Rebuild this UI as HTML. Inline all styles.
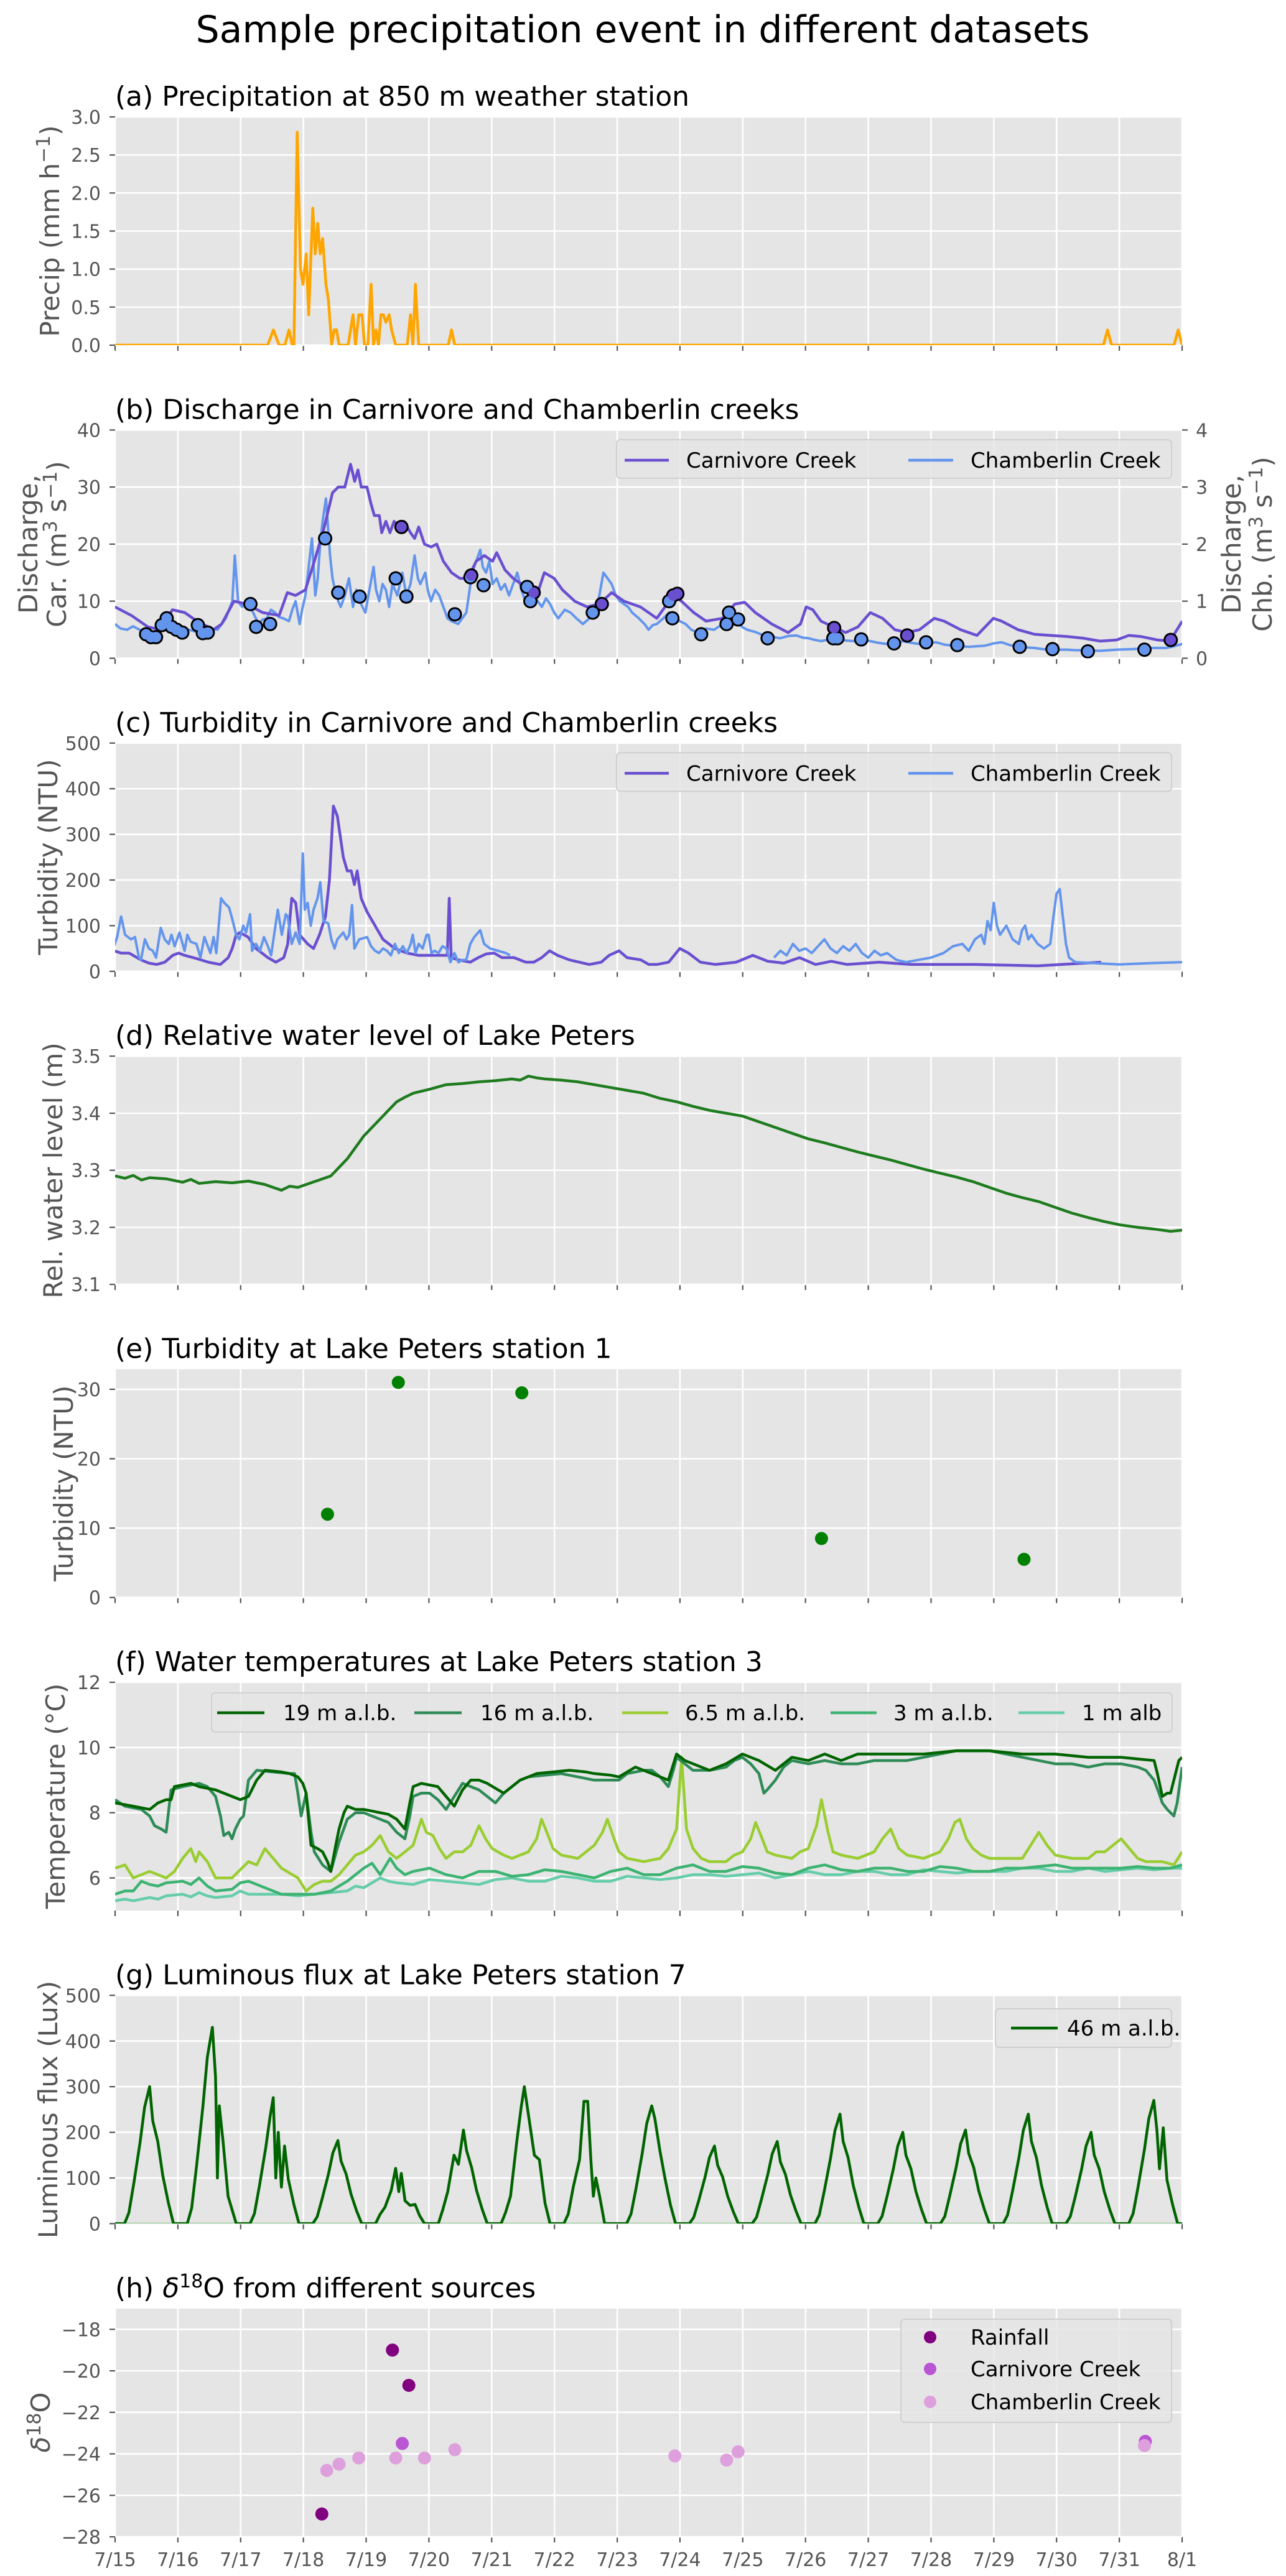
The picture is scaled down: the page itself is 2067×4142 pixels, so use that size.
<!DOCTYPE html>
<html><head><meta charset="utf-8"><style>
html,body{margin:0;padding:0;background:#fff;}
svg{display:block;font-family:"DejaVu Sans","Liberation Sans",sans-serif;}
.tk{font-size:30px;fill:#555;}
.yl{font-size:42px;fill:#555;}
.tt{font-size:44px;fill:#000;}
.lg{font-size:34px;fill:#000;}
.ln{fill:none;vector-effect:non-scaling-stroke;stroke-linejoin:round;stroke-width:4.5;}
.mk{fill:none;vector-effect:non-scaling-stroke;stroke-linecap:round;}
.hg line{stroke:#fff;stroke-width:2.6;}
.yt line{stroke:#555;stroke-width:2.2;}
</style></head><body>
<svg width="2067" height="4142" viewBox="0 0 2067 4142" xmlns="http://www.w3.org/2000/svg" xmlns:xlink="http://www.w3.org/1999/xlink">
<defs>
<g id="vg">
<rect x="185" y="0" width="1715" height="367" fill="#E5E5E5"/>
<g stroke="#fff" stroke-width="2.6">
<line x1="185" y1="0" x2="185" y2="367"/><line x1="285.9" y1="0" x2="285.9" y2="367"/><line x1="386.8" y1="0" x2="386.8" y2="367"/><line x1="487.6" y1="0" x2="487.6" y2="367"/><line x1="588.5" y1="0" x2="588.5" y2="367"/><line x1="689.4" y1="0" x2="689.4" y2="367"/><line x1="790.3" y1="0" x2="790.3" y2="367"/><line x1="891.2" y1="0" x2="891.2" y2="367"/><line x1="992.1" y1="0" x2="992.1" y2="367"/><line x1="1092.9" y1="0" x2="1092.9" y2="367"/><line x1="1193.8" y1="0" x2="1193.8" y2="367"/><line x1="1294.7" y1="0" x2="1294.7" y2="367"/><line x1="1395.6" y1="0" x2="1395.6" y2="367"/><line x1="1496.5" y1="0" x2="1496.5" y2="367"/><line x1="1597.4" y1="0" x2="1597.4" y2="367"/><line x1="1698.2" y1="0" x2="1698.2" y2="367"/><line x1="1799.1" y1="0" x2="1799.1" y2="367"/><line x1="1900" y1="0" x2="1900" y2="367"/>
</g>
<g stroke="#555" stroke-width="2.2">
<line x1="185" y1="367" x2="185" y2="376"/><line x1="285.9" y1="367" x2="285.9" y2="376"/><line x1="386.8" y1="367" x2="386.8" y2="376"/><line x1="487.6" y1="367" x2="487.6" y2="376"/><line x1="588.5" y1="367" x2="588.5" y2="376"/><line x1="689.4" y1="367" x2="689.4" y2="376"/><line x1="790.3" y1="367" x2="790.3" y2="376"/><line x1="891.2" y1="367" x2="891.2" y2="376"/><line x1="992.1" y1="367" x2="992.1" y2="376"/><line x1="1092.9" y1="367" x2="1092.9" y2="376"/><line x1="1193.8" y1="367" x2="1193.8" y2="376"/><line x1="1294.7" y1="367" x2="1294.7" y2="376"/><line x1="1395.6" y1="367" x2="1395.6" y2="376"/><line x1="1496.5" y1="367" x2="1496.5" y2="376"/><line x1="1597.4" y1="367" x2="1597.4" y2="376"/><line x1="1698.2" y1="367" x2="1698.2" y2="376"/><line x1="1799.1" y1="367" x2="1799.1" y2="376"/><line x1="1900" y1="367" x2="1900" y2="376"/>
</g>
</g>
<clipPath id="c0"><rect x="185" y="188" width="1715" height="367"/></clipPath>
<clipPath id="c1"><rect x="185" y="691.4" width="1715" height="367"/></clipPath>
<clipPath id="c2"><rect x="185" y="1194.8" width="1715" height="367"/></clipPath>
<clipPath id="c3"><rect x="185" y="1698.2" width="1715" height="367"/></clipPath>
<clipPath id="c5"><rect x="185" y="2705" width="1715" height="367"/></clipPath>
<clipPath id="c6"><rect x="185" y="3208.4" width="1715" height="367"/></clipPath>
</defs>

<use xlink:href="#vg" href="#vg" transform="translate(0,188)"/>
<use xlink:href="#vg" href="#vg" transform="translate(0,691.4)"/>
<use xlink:href="#vg" href="#vg" transform="translate(0,1194.8)"/>
<use xlink:href="#vg" href="#vg" transform="translate(0,1698.2)"/>
<use xlink:href="#vg" href="#vg" transform="translate(0,2201.6)"/>
<use xlink:href="#vg" href="#vg" transform="translate(0,2705)"/>
<use xlink:href="#vg" href="#vg" transform="translate(0,3208.4)"/>
<use xlink:href="#vg" href="#vg" transform="translate(0,3712)"/>

<g class="hg">
<line x1="185" x2="1900" y1="188" y2="188"/><line x1="185" x2="1900" y1="249.2" y2="249.2"/><line x1="185" x2="1900" y1="310.3" y2="310.3"/><line x1="185" x2="1900" y1="371.5" y2="371.5"/><line x1="185" x2="1900" y1="432.7" y2="432.7"/><line x1="185" x2="1900" y1="493.8" y2="493.8"/><line x1="185" x2="1900" y1="555" y2="555"/>
<line x1="185" x2="1900" y1="691.4" y2="691.4"/><line x1="185" x2="1900" y1="783.1" y2="783.1"/><line x1="185" x2="1900" y1="874.9" y2="874.9"/><line x1="185" x2="1900" y1="966.6" y2="966.6"/><line x1="185" x2="1900" y1="1058.4" y2="1058.4"/>
<line x1="185" x2="1900" y1="1194.8" y2="1194.8"/><line x1="185" x2="1900" y1="1268.2" y2="1268.2"/><line x1="185" x2="1900" y1="1341.6" y2="1341.6"/><line x1="185" x2="1900" y1="1415" y2="1415"/><line x1="185" x2="1900" y1="1488.4" y2="1488.4"/><line x1="185" x2="1900" y1="1561.8" y2="1561.8"/>
<line x1="185" x2="1900" y1="1698.2" y2="1698.2"/><line x1="185" x2="1900" y1="1790" y2="1790"/><line x1="185" x2="1900" y1="1881.7" y2="1881.7"/><line x1="185" x2="1900" y1="1973.5" y2="1973.5"/><line x1="185" x2="1900" y1="2065.2" y2="2065.2"/>
<line x1="185" x2="1900" y1="2233.9" y2="2233.9"/><line x1="185" x2="1900" y1="2345.5" y2="2345.5"/><line x1="185" x2="1900" y1="2457" y2="2457"/><line x1="185" x2="1900" y1="2568.6" y2="2568.6"/>
<line x1="185" x2="1900" y1="2705" y2="2705"/><line x1="185" x2="1900" y1="2809.9" y2="2809.9"/><line x1="185" x2="1900" y1="2914.7" y2="2914.7"/><line x1="185" x2="1900" y1="3019.6" y2="3019.6"/>
<line x1="185" x2="1900" y1="3208.4" y2="3208.4"/><line x1="185" x2="1900" y1="3281.8" y2="3281.8"/><line x1="185" x2="1900" y1="3355.2" y2="3355.2"/><line x1="185" x2="1900" y1="3428.6" y2="3428.6"/><line x1="185" x2="1900" y1="3502" y2="3502"/><line x1="185" x2="1900" y1="3575.4" y2="3575.4"/>
<line x1="185" x2="1900" y1="3745.4" y2="3745.4"/><line x1="185" x2="1900" y1="3812.1" y2="3812.1"/><line x1="185" x2="1900" y1="3878.8" y2="3878.8"/><line x1="185" x2="1900" y1="3945.6" y2="3945.6"/><line x1="185" x2="1900" y1="4012.3" y2="4012.3"/><line x1="185" x2="1900" y1="4079" y2="4079"/>
</g>
<g class="yt">
<line x1="176" x2="185" y1="188" y2="188"/><line x1="176" x2="185" y1="249.2" y2="249.2"/><line x1="176" x2="185" y1="310.3" y2="310.3"/><line x1="176" x2="185" y1="371.5" y2="371.5"/><line x1="176" x2="185" y1="432.7" y2="432.7"/><line x1="176" x2="185" y1="493.8" y2="493.8"/><line x1="176" x2="185" y1="555" y2="555"/>
<line x1="176" x2="185" y1="691.4" y2="691.4"/><line x1="176" x2="185" y1="783.1" y2="783.1"/><line x1="176" x2="185" y1="874.9" y2="874.9"/><line x1="176" x2="185" y1="966.6" y2="966.6"/><line x1="176" x2="185" y1="1058.4" y2="1058.4"/>
<line x1="1900" x2="1909" y1="691.4" y2="691.4"/><line x1="1900" x2="1909" y1="783.1" y2="783.1"/><line x1="1900" x2="1909" y1="874.9" y2="874.9"/><line x1="1900" x2="1909" y1="966.6" y2="966.6"/><line x1="1900" x2="1909" y1="1058.4" y2="1058.4"/>
<line x1="176" x2="185" y1="1194.8" y2="1194.8"/><line x1="176" x2="185" y1="1268.2" y2="1268.2"/><line x1="176" x2="185" y1="1341.6" y2="1341.6"/><line x1="176" x2="185" y1="1415" y2="1415"/><line x1="176" x2="185" y1="1488.4" y2="1488.4"/><line x1="176" x2="185" y1="1561.8" y2="1561.8"/>
<line x1="176" x2="185" y1="1698.2" y2="1698.2"/><line x1="176" x2="185" y1="1790" y2="1790"/><line x1="176" x2="185" y1="1881.7" y2="1881.7"/><line x1="176" x2="185" y1="1973.5" y2="1973.5"/><line x1="176" x2="185" y1="2065.2" y2="2065.2"/>
<line x1="176" x2="185" y1="2233.9" y2="2233.9"/><line x1="176" x2="185" y1="2345.5" y2="2345.5"/><line x1="176" x2="185" y1="2457" y2="2457"/><line x1="176" x2="185" y1="2568.6" y2="2568.6"/>
<line x1="176" x2="185" y1="2705" y2="2705"/><line x1="176" x2="185" y1="2809.9" y2="2809.9"/><line x1="176" x2="185" y1="2914.7" y2="2914.7"/><line x1="176" x2="185" y1="3019.6" y2="3019.6"/>
<line x1="176" x2="185" y1="3208.4" y2="3208.4"/><line x1="176" x2="185" y1="3281.8" y2="3281.8"/><line x1="176" x2="185" y1="3355.2" y2="3355.2"/><line x1="176" x2="185" y1="3428.6" y2="3428.6"/><line x1="176" x2="185" y1="3502" y2="3502"/><line x1="176" x2="185" y1="3575.4" y2="3575.4"/>
<line x1="176" x2="185" y1="3745.4" y2="3745.4"/><line x1="176" x2="185" y1="3812.1" y2="3812.1"/><line x1="176" x2="185" y1="3878.8" y2="3878.8"/><line x1="176" x2="185" y1="3945.6" y2="3945.6"/><line x1="176" x2="185" y1="4012.3" y2="4012.3"/><line x1="176" x2="185" y1="4079" y2="4079"/>
</g>

<!-- (a) precip -->
<g clip-path="url(#c0)"><g transform="translate(0,555) scale(1.3196,-122.33)">
<polyline class="ln" stroke="#FFA500" points="140,0 326,0 333,0.2 340,0 347,0 352,0.2 356,0 358,0 362,2.8 366,1.0 369,0.8 373,1.2 376,0.4 381,1.8 384,1.2 387,1.6 390,1.2 393,1.4 397,0.8 400,0.6 404,0 407,0.2 410,0.2 413,0 424,0 430,0.4 433,0 437,0.4 441,0.4 444,0 448,0 452,0.8 455,0 458,0.2 461,0 464,0.4 467,0.4 470,0.3 474,0.4 477,0.2 482,0 496,0 500,0.4 503,0 506,0.8 510,0 546,0 550,0.2 554,0 1344,0 1349,0.2 1354,0 1430,0 1435,0.2 1440,0"/>
</g></g>

<!-- (b) discharge -->
<g clip-path="url(#c1)"><g transform="translate(0,1058.4) scale(1.3196,-9.175)">
<polyline class="ln" stroke="#6495ED" style="stroke-width:4" points="140,6 147,5.2 155,5 162,5.6 170,5 175,4.2 180,3.5 187,4.6 195,5 203,6.3 210,6 220,5.4 230,5 240,4.6 250,4.5 258,5.2 265,5 275,7 283,10 286,18 290,10 295,9 300,10 305,9 310,7.5 315,6 320,6.8 325,7 330,8.5 335,8 340,7.2 345,7 352,6.5 356,8.5 360,10 365,6 368,8.5 372,11 376,16 380,21 384,11 387,14 390,20 393,24 397,28 402,18 405,14 408,12 412,10 415,9 420,11 425,14 430,9 434,12 438,10 445,8 450,12 455,16 458,12 462,10 466,13 470,12 474,9 478,13 484,11 490,15 495,11 500,13 505,18 509,14 512,13 518,15 521,12 525,10 530,12 535,11 540,9 545,7 550,6.5 558,6 563,7 568,8 571,11 575,15 580,17 585,19 588,16 592,15 596,17 600,13 605,14 610,12 615,13 620,11 625,13 630,15 635,12 640,10 645,11.5 650,11 655,10 660,9 665,10.5 670,9.5 675,8 680,7 688,8.5 695,8 702,7 710,6 718,7 725,8 730,11 735,15 740,14 745,13 750,11 755,10 760,9.5 765,9 770,8 778,7 785,6 790,5 795,5.8 800,6 808,7 815,8 822,7 828,6.5 835,6 842,5 850,4.5 860,5.2 870,5 880,6 890,7 895,6.5 900,6 905,5.4 910,5 920,4.6 930,4 940,3.8 950,3.5 960,3.9 970,4 978,3.6 985,3.5 993,3.2 1000,3 1010,3.3 1020,3.5 1030,3.1 1040,3 1050,3.2 1060,3 1070,2.7 1080,2.5 1090,2.8 1100,3 1110,2.7 1120,2.5 1130,2.7 1140,2.8 1150,2.4 1160,2.2 1170,2.1 1180,2 1190,2.1 1200,2.2 1210,2.6 1220,2.8 1230,2.3 1240,2 1250,1.9 1260,1.8 1270,1.6 1280,1.5 1290,1.5 1300,1.5 1310,1.4 1320,1.4 1330,1.35 1340,1.3 1350,1.4 1360,1.5 1370,1.55 1380,1.6 1390,1.7 1400,1.8 1410,1.8 1420,1.8 1430,2.1 1440,2.5"/>
<polyline class="ln" stroke="#6A4FD0" points="140,9 160,7.5 180,5.5 195,5 210,8.5 225,8 240,6.5 260,5 270,6 285,10 300,9.5 320,8 340,7.5 350,11.5 360,11 372,12 385,18 395,23 405,29 412,30 420,30 427,34 432,31 436,33 440,30 447,30 452,27 456,25 462,25 465,22 470,24 475,22 480,24 487,23 492,24 500,22 505,21 510,23 517,20 525,19.5 532,20 540,17 550,15 560,14 570,14 580,17 590,18 600,17 605,18.5 615,15.5 625,14 635,13 645,12 655,11.5 663,15 675,14 685,12 700,10 715,9 730,9.5 745,11.5 760,10 780,9 800,7 820,11 830,10 845,8 860,6.5 880,7 895,9.5 907,9.8 920,8 940,6 960,4.5 975,6 982,9 990,8.5 1000,6.5 1015,5.5 1030,4.5 1045,5.5 1060,8 1075,7 1090,5 1105,4.5 1120,5 1138,7 1150,6.5 1170,5 1190,4 1210,7 1220,6.5 1240,5 1260,4.2 1280,4 1300,3.8 1320,3.5 1340,3 1360,3.2 1375,4 1390,3.8 1410,3.2 1425,3 1440,6.5"/>
<path class="mk" stroke="#000" stroke-width="23" d="M178 4.2h0.01M184 3.7h0.01M190 3.7h0.01M197 5.8h0.01M203 7h0.01M209 5.5h0.01M215 5h0.01M222 4.5h0.01M241 5.8h0.01M247 4.4h0.01M253 4.5h0.01M305 9.5h0.01M312 5.5h0.01M329 6h0.01M396 21h0.01M412 11.5h0.01M438 10.8h0.01M482 14h0.01M495 10.8h0.01M554 7.7h0.01M573 14.2h0.01M589 12.8h0.01M642 12.5h0.01M646 10h0.01M722 8h0.01M815 10h0.01M819 7h0.01M854 4.2h0.01M885 6h0.01M888 8h0.01M899 6.8h0.01M935 3.5h0.01M1015 3.5h0.01M1020 3.5h0.01M1049 3.3h0.01M1089 2.6h0.01M1128 2.8h0.01M1166 2.3h0.01M1242 2h0.01M1282 1.6h0.01M1325 1.2h0.01M1394 1.5h0.01M489 23h0.01M574 14.5h0.01M650 11.5h0.01M733 9.5h0.01M820 11h0.01M825 11.3h0.01M1016 5.3h0.01M1105 4h0.01M1426 3.2h0.01"/>
<path class="mk" stroke="#6495ED" stroke-width="17" d="M178 4.2h0.01M184 3.7h0.01M190 3.7h0.01M197 5.8h0.01M203 7h0.01M209 5.5h0.01M215 5h0.01M222 4.5h0.01M241 5.8h0.01M247 4.4h0.01M253 4.5h0.01M305 9.5h0.01M312 5.5h0.01M329 6h0.01M396 21h0.01M412 11.5h0.01M438 10.8h0.01M482 14h0.01M495 10.8h0.01M554 7.7h0.01M573 14.2h0.01M589 12.8h0.01M642 12.5h0.01M646 10h0.01M722 8h0.01M815 10h0.01M819 7h0.01M854 4.2h0.01M885 6h0.01M888 8h0.01M899 6.8h0.01M935 3.5h0.01M1015 3.5h0.01M1020 3.5h0.01M1049 3.3h0.01M1089 2.6h0.01M1128 2.8h0.01M1166 2.3h0.01M1242 2h0.01M1282 1.6h0.01M1325 1.2h0.01M1394 1.5h0.01"/>
<path class="mk" stroke="#6A4FD0" stroke-width="17" d="M489 23h0.01M574 14.5h0.01M650 11.5h0.01M733 9.5h0.01M820 11h0.01M825 11.3h0.01M1016 5.3h0.01M1105 4h0.01M1426 3.2h0.01"/>
</g></g>

<!-- (c) turbidity -->
<g clip-path="url(#c2)">
<g transform="translate(150,1561.8) scale(0.63776,-0.734)">
<polyline class="ln" stroke="#6A4FD0" points="52,45 70,40 90,40 100,35 120,25 140,18 160,15 180,20 200,35 215,40 230,35 260,28 290,20 320,15 340,30 350,50 360,80 370,85 390,75 410,50 440,30 460,20 480,30 490,60 500,160 510,150 520,80 540,60 555,50 570,80 585,120 595,200 605,362 615,340 630,250 640,220 650,220 658,190 665,220 675,160 690,130 710,100 730,70 760,50 790,40 820,35 850,35 880,35 892,35 897,160 902,30 920,25 950,20 970,30 990,38 1010,40 1030,30 1060,30 1090,20 1110,20 1130,30 1150,45 1170,35 1200,25 1250,15 1280,20 1300,35 1325,45 1345,30 1380,25 1400,15 1420,15 1450,20 1478,50 1500,40 1530,20 1568,15 1620,20 1662,35 1700,22 1740,18 1780,30 1820,15 1860,22 1900,15 1980,20 2060,15 2220,15 2380,12 2540,20"/>
<polyline class="ln" stroke="#6495ED" style="stroke-width:4" points="52,55 60,75 70,120 80,80 95,70 105,75 115,30 120,25 130,70 140,50 150,45 158,30 170,95 180,70 190,60 197,80 205,55 217,85 230,45 237,80 245,65 260,60 270,30 280,75 295,40 303,75 310,40 322,160 330,150 342,140 350,115 360,80 368,70 378,100 385,85 395,125 400,45 410,60 420,45 430,75 440,55 448,35 465,135 475,80 485,125 490,120 500,60 510,85 520,60 528,258 533,135 540,150 548,100 555,135 565,160 572,195 580,110 592,105 600,70 608,50 615,70 630,85 638,70 645,80 652,145 658,50 670,70 690,75 700,55 710,45 720,40 730,50 740,45 750,35 760,60 770,40 780,55 790,40 800,60 805,80 812,40 820,60 830,50 840,80 845,80 852,40 860,45 870,40 880,55 890,50 900,20 910,40 920,20 930,25 940,25 950,60 960,75 975,90 985,60 1000,50 1020,45 1040,40 1050,35"/>
</g>
<g transform="translate(185,1561.8) scale(100.88,-0.734)">
<polyline class="ln" stroke="#6495ED" style="stroke-width:4" points="10.5,30 10.6,45 10.7,35 10.8,60 10.9,45 11,50 11.1,40 11.2,55 11.3,70 11.4,50 11.5,40 11.6,55 11.7,45 11.8,60 11.9,40 12,30 12.1,45 12.2,35 12.3,40 12.45,25 12.6,20 12.8,25 13,30 13.2,40 13.35,55 13.5,60 13.6,45 13.7,70 13.8,80 13.85,60 13.9,110 13.95,90 14.0,150 14.05,100 14.1,80 14.2,100 14.3,70 14.4,60 14.45,90 14.5,100 14.55,70 14.6,80 14.7,60 14.8,50 14.9,60 14.95,120 15.0,170 15.05,180 15.1,120 15.15,60 15.2,30 15.3,20 15.6,18 16,15 16.5,18 17,20"/>
</g>
</g>

<!-- (d) lake level -->
<g clip-path="url(#c3)"><g transform="translate(2.38,4909.45) scale(2.6466,-917.5)">
<polyline class="ln" stroke="#1E7B1E" points="69,3.29 75,3.286 80,3.291 85,3.283 90,3.287 100,3.285 110,3.279 115,3.284 120,3.277 130,3.28 140,3.278 150,3.281 160,3.275 165,3.27 170,3.265 175,3.272 180,3.27 190,3.28 200,3.29 205,3.305 210,3.32 215,3.34 220,3.36 225,3.375 230,3.39 235,3.405 240,3.42 245,3.428 250,3.435 260,3.442 270,3.45 280,3.452 290,3.455 300,3.457 310,3.46 315,3.458 320,3.465 325,3.462 330,3.46 340,3.458 350,3.455 360,3.45 370,3.445 380,3.44 390,3.435 400,3.426 410,3.42 420,3.412 430,3.405 440,3.4 450,3.395 460,3.385 470,3.375 480,3.365 490,3.355 500,3.348 510,3.34 520,3.332 530,3.325 540,3.318 550,3.31 560,3.302 570,3.295 580,3.288 590,3.28 600,3.27 610,3.26 620,3.252 630,3.245 640,3.235 650,3.225 660,3.217 670,3.21 680,3.204 690,3.2 700,3.197 710,3.193 717,3.195"/>
</g></g>

<!-- (e) -->
<g transform="translate(2.38,2568.6) scale(2.6466,-11.155)">
<path class="mk" stroke="#008000" stroke-width="21" d="M198 12h0.01M241 31h0.01M316 29.5h0.01M498 8.5h0.01M621 5.5h0.01"/>
</g>

<!-- (f) temperature -->
<g clip-path="url(#c5)"><g transform="translate(2.38,3334.15) scale(2.6466,-52.43)">
<polyline class="ln" stroke="#66CDAA" points="69,5.3 75,5.35 80,5.3 90,5.4 95,5.35 100,5.45 110,5.5 115,5.42 120,5.55 125,5.45 130,5.4 140,5.45 145,5.6 150,5.5 160,5.5 170,5.5 180,5.45 190,5.5 200,5.55 210,5.6 215,5.75 220,5.7 230,6.0 235,5.9 240,5.85 250,5.8 260,5.95 270,5.9 280,5.85 290,5.8 300,5.95 310,6.0 320,5.9 330,5.9 340,6.05 350,6.0 360,5.9 370,5.9 380,6.05 390,6.0 400,5.95 410,6.0 420,6.1 430,6.1 440,6.05 450,6.1 460,6.15 470,6.0 480,6.1 490,6.2 500,6.1 510,6.1 520,6.2 530,6.2 540,6.1 550,6.1 560,6.25 570,6.2 580,6.15 590,6.2 600,6.2 610,6.2 620,6.3 630,6.3 640,6.2 650,6.2 660,6.3 670,6.2 680,6.25 690,6.3 700,6.25 710,6.3 717,6.3"/>
<polyline class="ln" stroke="#3CB371" points="69,5.5 75,5.6 80,5.6 85,5.9 90,5.8 95,5.75 100,5.85 110,5.9 115,5.8 120,6.0 125,5.75 130,5.6 140,5.65 145,5.85 150,5.9 160,5.7 170,5.5 180,5.5 190,5.5 200,5.6 210,5.9 215,6.1 220,6.3 225,6.45 230,6.1 236,6.6 240,6.3 245,6.1 250,6.2 260,6.3 270,6.1 280,6.0 290,6.2 300,6.2 310,6.05 320,6.1 330,6.25 340,6.2 350,6.1 360,6.0 370,6.2 380,6.3 390,6.1 400,6.1 410,6.3 420,6.4 430,6.2 440,6.2 450,6.35 460,6.3 470,6.15 480,6.1 490,6.3 500,6.4 510,6.25 520,6.2 530,6.3 540,6.3 550,6.2 560,6.2 570,6.35 580,6.3 590,6.2 600,6.2 610,6.3 620,6.3 630,6.35 640,6.4 650,6.3 660,6.3 670,6.3 680,6.3 690,6.35 700,6.3 710,6.3 717,6.4"/>
<polyline class="ln" stroke="#9ACD32" points="69,6.3 75,6.4 80,6.0 90,6.2 100,6.0 105,6.2 110,6.6 115,6.9 118,6.5 120,6.8 125,6.5 130,6.0 140,6.0 150,6.5 155,6.4 160,6.9 165,6.6 170,6.3 180,6.0 185,5.6 190,5.8 195,5.9 200,5.9 205,6.1 210,6.4 215,6.7 220,6.8 225,7.0 230,7.3 235,6.8 240,6.6 245,6.8 250,7.0 255,7.8 258,7.4 262,7.3 266,6.9 270,6.6 275,6.8 280,6.8 285,7.0 290,7.6 294,7.2 298,6.9 305,6.7 310,6.6 315,6.7 320,6.8 325,7.2 328,7.8 332,7.3 335,6.9 340,6.7 350,6.6 355,6.8 360,7.0 365,7.4 368,7.8 372,7.2 375,6.8 380,6.6 390,6.5 400,6.6 405,6.9 410,7.5 413,9.7 416,7.5 420,6.9 425,6.6 430,6.5 440,6.5 445,6.7 450,6.8 455,7.2 458,7.7 462,7.2 465,6.8 470,6.7 480,6.6 485,6.8 490,6.9 495,7.6 498,8.4 502,7.4 505,6.8 510,6.7 520,6.6 525,6.7 530,6.8 535,7.2 540,7.5 545,6.9 550,6.7 560,6.6 565,6.7 570,6.8 575,7.2 579,7.7 582,7.8 586,7.2 590,6.9 595,6.7 600,6.6 610,6.6 620,6.6 625,7.0 630,7.4 635,7.0 640,6.7 650,6.6 660,6.6 665,6.8 670,6.8 675,7.0 680,7.2 685,6.9 690,6.6 695,6.5 700,6.5 705,6.5 712,6.4 717,6.8"/>
<polyline class="ln" stroke="#2E8B57" points="69,8.4 75,8.2 85,8.1 90,7.9 93,7.6 97,7.5 100,7.4 103,8.7 110,8.8 120,8.9 125,8.8 130,8.5 133,7.9 135,7.3 138,7.4 140,7.2 142,7.5 145,7.8 147,7.9 150,9.0 155,9.3 165,9.25 175,9.2 178,9.2 180,8.6 182,7.9 185,8.6 188,7.4 190,6.8 195,6.4 200,6.2 205,7.1 210,7.8 215,8.0 220,8.0 230,7.8 235,7.7 240,7.4 245,7.2 248,7.9 250,8.5 255,8.6 260,8.6 265,8.4 270,8.1 275,8.5 280,8.9 285,8.8 290,8.7 295,8.5 300,8.3 305,8.6 310,8.8 315,9.0 320,9.1 330,9.15 340,9.2 350,9.1 360,9.0 370,9.0 375,9.0 380,9.2 390,9.3 395,9.3 400,9.1 405,8.8 408,9.3 410,9.7 415,9.5 420,9.3 430,9.3 440,9.4 445,9.6 450,9.7 455,9.5 460,9.2 463,8.6 465,8.7 470,9.0 475,9.4 480,9.6 490,9.5 500,9.6 510,9.5 520,9.5 530,9.6 540,9.6 550,9.6 560,9.7 570,9.8 580,9.9 590,9.9 600,9.9 610,9.8 620,9.7 630,9.6 640,9.5 650,9.5 660,9.4 670,9.5 680,9.5 690,9.4 695,9.3 700,9.0 703,8.6 705,8.3 708,8.1 712,7.9 714,8.3 717,9.4"/>
<polyline class="ln" stroke="#006400" points="69,8.3 80,8.2 85,8.15 90,8.1 95,8.3 100,8.4 103,8.4 105,8.8 110,8.85 115,8.9 120,8.8 130,8.7 135,8.6 140,8.5 145,8.4 150,8.5 155,9.0 160,9.3 170,9.25 175,9.2 180,9.1 183,8.9 185,8.6 188,7.0 192,6.9 195,6.8 198,6.5 200,6.2 203,7.0 205,7.5 208,8.0 210,8.2 215,8.1 220,8.1 230,8.0 235,7.95 240,7.8 245,7.5 248,8.3 250,8.8 255,8.9 260,8.85 265,8.8 270,8.5 275,8.2 280,8.7 285,9.0 290,9.0 295,8.9 300,8.75 305,8.6 310,8.8 315,9.0 320,9.1 325,9.2 335,9.25 345,9.3 355,9.25 360,9.2 370,9.15 375,9.1 380,9.25 385,9.4 390,9.3 395,9.2 400,9.1 405,9.0 410,9.8 415,9.6 420,9.5 425,9.4 430,9.3 435,9.4 440,9.5 445,9.65 450,9.8 455,9.7 460,9.6 465,9.45 470,9.3 475,9.5 480,9.7 485,9.65 490,9.6 495,9.7 500,9.8 505,9.7 510,9.6 515,9.7 520,9.8 530,9.8 540,9.8 550,9.8 560,9.8 570,9.85 580,9.9 590,9.9 600,9.9 610,9.85 620,9.8 630,9.8 640,9.8 650,9.75 660,9.7 670,9.7 680,9.7 690,9.65 700,9.6 702,9.2 705,8.5 708,8.6 710,8.6 713,9.2 715,9.6 717,9.7"/>
</g></g>

<!-- (g) luminous -->
<g clip-path="url(#c6)"><g transform="translate(185,3575.4) scale(100.88,-0.734)">
<polyline class="ln" stroke="#9CC89C" style="stroke-width:3" points="0,0 17,0"/>
<polyline class="ln" stroke="#006400" points="0,0 0.15,0 0.22,24 0.3,90 0.4,180 0.47,255 0.55,300 0.6,225 0.68,180 0.76,105 0.85,45 0.93,0 1.15,0 1.22,34 1.3,129 1.4,258 1.47,365 1.55,430 1.6,322 1.63,100 1.66,258 1.72,180 1.8,60 1.93,0 2.15,0 2.22,22 2.3,83 2.4,166 2.47,235 2.52,276 2.56,100 2.6,200 2.65,80 2.7,170 2.76,97 2.85,41 2.93,0 3.15,0 3.22,15 3.3,55 3.4,109 3.47,155 3.55,182 3.6,137 3.68,109 3.76,64 3.85,27 3.93,0 4.15,0 4.22,20 4.3,36 4.4,73 4.47,121 4.52,70 4.56,110 4.62,50 4.7,40 4.78,42 4.85,18 4.93,0 5.15,0 5.22,30 5.3,70 5.4,150 5.47,130 5.55,205 5.6,160 5.68,123 5.76,72 5.85,31 5.93,0 6.15,0 6.22,24 6.3,60 6.4,180 6.47,255 6.52,300 6.6,225 6.68,150 6.76,140 6.85,45 6.93,0 7.15,0 7.22,21 7.3,80 7.4,140 7.47,268 7.53,268 7.58,140 7.62,60 7.66,100 7.72,60 7.8,0 8.15,0 8.22,21 8.3,77 8.4,155 8.47,219 8.55,258 8.6,230 8.68,160 8.76,100 8.85,40 8.93,0 9.15,0 9.22,14 9.3,51 9.4,102 9.47,145 9.55,170 9.6,128 9.68,102 9.76,60 9.85,26 9.93,0 10.15,0 10.22,14 10.3,54 10.4,108 10.47,153 10.55,180 10.6,135 10.68,108 10.76,63 10.85,27 10.93,0 11.15,0 11.22,19 11.3,72 11.4,144 11.47,204 11.55,240 11.6,180 11.68,144 11.76,84 11.85,36 11.93,0 12.15,0 12.22,16 12.3,60 12.4,120 12.47,170 12.55,200 12.6,150 12.68,120 12.76,70 12.85,30 12.93,0 13.15,0 13.22,16 13.3,62 13.4,123 13.47,174 13.55,205 13.6,154 13.68,123 13.76,72 13.85,31 13.93,0 14.15,0 14.22,19 14.3,72 14.4,144 14.47,204 14.55,240 14.6,180 14.68,144 14.76,84 14.85,36 14.93,0 15.15,0 15.22,16 15.3,60 15.4,120 15.47,170 15.55,200 15.6,150 15.68,120 15.76,70 15.85,30 15.93,0 16.15,0 16.22,22 16.3,81 16.4,162 16.47,230 16.55,270 16.6,203 16.64,120 16.7,210 16.76,95 16.85,41 16.93,0 17,0"/>
</g></g>

<!-- (h) -->
<g transform="translate(0,3144.92) scale(1.3196,-33.36)">
<path class="mk" stroke="#DDA0DD" stroke-width="21" d="M398 -24.8h0.01M413 -24.5h0.01M437 -24.2h0.01M482 -24.2h0.01M517 -24.2h0.01M554 -23.8h0.01M822 -24.1h0.01M885 -24.3h0.01M899 -23.9h0.01"/>
<path class="mk" stroke="#BA55D3" stroke-width="21" d="M490 -23.5h0.01M1395 -23.4h0.01"/>
<path class="mk" stroke="#DDA0DD" stroke-width="21" d="M1394 -23.6h0.01"/>
<path class="mk" stroke="#800080" stroke-width="21" d="M392 -26.9h0.01M478 -19h0.01M498 -20.7h0.01"/>
</g>

<text x="1033" y="68" text-anchor="middle" font-size="60" fill="#000">Sample precipitation event in different datasets</text>

<text class="tt" x="185" y="170">(a) Precipitation at 850 m weather station</text>
<text class="tt" x="185" y="673.4">(b) Discharge in Carnivore and Chamberlin creeks</text>
<text class="tt" x="185" y="1176.8">(c) Turbidity in Carnivore and Chamberlin creeks</text>
<text class="tt" x="185" y="1680.2">(d) Relative water level of Lake Peters</text>
<text class="tt" x="185" y="2183.6">(e) Turbidity at Lake Peters station 1</text>
<text class="tt" x="185" y="2687">(f) Water temperatures at Lake Peters station 3</text>
<text class="tt" x="185" y="3190.4">(g) Luminous flux at Lake Peters station 7</text>
<text class="tt" x="185" y="3694">(h) <tspan font-style="italic">δ</tspan><tspan dy="-16" font-size="30">18</tspan><tspan dy="16">O from different sources</tspan></text>

<g class="tk" text-anchor="end">
<text x="162" y="199">3.0</text><text x="162" y="260.2">2.5</text><text x="162" y="321.3">2.0</text><text x="162" y="382.5">1.5</text><text x="162" y="443.7">1.0</text><text x="162" y="504.8">0.5</text><text x="162" y="566">0.0</text>
<text x="162" y="702.4">40</text><text x="162" y="794.1">30</text><text x="162" y="885.9">20</text><text x="162" y="977.6">10</text><text x="162" y="1069.4">0</text>
<text x="162" y="1205.8">500</text><text x="162" y="1279.2">400</text><text x="162" y="1352.6">300</text><text x="162" y="1426">200</text><text x="162" y="1499.4">100</text><text x="162" y="1572.8">0</text>
<text x="162" y="1709.2">3.5</text><text x="162" y="1801">3.4</text><text x="162" y="1892.7">3.3</text><text x="162" y="1984.5">3.2</text><text x="162" y="2076.2">3.1</text>
<text x="162" y="2244.9">30</text><text x="162" y="2356.5">20</text><text x="162" y="2468">10</text><text x="162" y="2579.6">0</text>
<text x="162" y="2716">12</text><text x="162" y="2820.9">10</text><text x="162" y="2925.7">8</text><text x="162" y="3030.6">6</text>
<text x="162" y="3219.4">500</text><text x="162" y="3292.8">400</text><text x="162" y="3366.2">300</text><text x="162" y="3439.6">200</text><text x="162" y="3513">100</text><text x="162" y="3586.4">0</text>
<text x="162" y="3756.4">−18</text><text x="162" y="3823.1">−20</text><text x="162" y="3889.8">−22</text><text x="162" y="3956.6">−24</text><text x="162" y="4023.3">−26</text><text x="162" y="4090">−28</text>
</g>
<g class="tk" text-anchor="start">
<text x="1922" y="702.4">4</text><text x="1922" y="794.1">3</text><text x="1922" y="885.9">2</text><text x="1922" y="977.6">1</text><text x="1922" y="1069.4">0</text>
</g>
<g class="tk" text-anchor="middle">
<text x="185" y="4126">7/15</text><text x="285.9" y="4126">7/16</text><text x="386.8" y="4126">7/17</text><text x="487.6" y="4126">7/18</text><text x="588.5" y="4126">7/19</text><text x="689.4" y="4126">7/20</text><text x="790.3" y="4126">7/21</text><text x="891.2" y="4126">7/22</text><text x="992.1" y="4126">7/23</text><text x="1092.9" y="4126">7/24</text><text x="1193.8" y="4126">7/25</text><text x="1294.7" y="4126">7/26</text><text x="1395.6" y="4126">7/27</text><text x="1496.5" y="4126">7/28</text><text x="1597.4" y="4126">7/29</text><text x="1698.2" y="4126">7/30</text><text x="1799.1" y="4126">7/31</text><text x="1900" y="4126">8/1</text>
</g>

<g class="yl" text-anchor="middle">
<text transform="translate(95,371.5) rotate(-90)">Precip (mm h<tspan dy="-15" font-size="30">−1</tspan><tspan dy="15">)</tspan></text>
<text transform="translate(60,875) rotate(-90)">Discharge,</text>
<text transform="translate(106,875) rotate(-90)">Car. (m<tspan dy="-15" font-size="30">3</tspan><tspan dy="15"> s</tspan><tspan dy="-15" font-size="30">−1</tspan><tspan dy="15">)</tspan></text>
<text transform="translate(1994,875) rotate(-90)">Discharge,</text>
<text transform="translate(2044,875) rotate(-90)">Chb. (m<tspan dy="-15" font-size="30">3</tspan><tspan dy="15"> s</tspan><tspan dy="-15" font-size="30">−1</tspan><tspan dy="15">)</tspan></text>
<text transform="translate(92,1378) rotate(-90)">Turbidity (NTU)</text>
<text transform="translate(100,1882) rotate(-90)">Rel. water level (m)</text>
<text transform="translate(117,2385) rotate(-90)">Turbidity (NTU)</text>
<text transform="translate(104,2888) rotate(-90)">Temperature (°C)</text>
<text transform="translate(92,3392) rotate(-90)">Luminous flux (Lux)</text>
<text transform="translate(80,3895) rotate(-90)"><tspan font-style="italic">δ</tspan><tspan dy="-15" font-size="30">18</tspan><tspan dy="15">O</tspan></text>
</g>

<!-- legends -->
<g>
<rect x="991" y="707" width="892" height="62" rx="6" fill="#E5E5E5" fill-opacity="0.85" stroke="#d0d0d0" stroke-width="2"/>
<line x1="1004" y1="740" x2="1075" y2="740" stroke="#6A4FD0" stroke-width="4.5"/>
<text class="lg" x="1103" y="752">Carnivore Creek</text>
<line x1="1460" y1="740" x2="1532" y2="740" stroke="#6495ED" stroke-width="4.5"/>
<text class="lg" x="1560" y="752">Chamberlin Creek</text>

<rect x="991" y="1210.4" width="892" height="62" rx="6" fill="#E5E5E5" fill-opacity="0.85" stroke="#d0d0d0" stroke-width="2"/>
<line x1="1004" y1="1243.4" x2="1075" y2="1243.4" stroke="#6A4FD0" stroke-width="4.5"/>
<text class="lg" x="1103" y="1255.4">Carnivore Creek</text>
<line x1="1460" y1="1243.4" x2="1532" y2="1243.4" stroke="#6495ED" stroke-width="4.5"/>
<text class="lg" x="1560" y="1255.4">Chamberlin Creek</text>

<rect x="340" y="2722" width="1544" height="63" rx="6" fill="#E5E5E5" fill-opacity="0.85" stroke="#d0d0d0" stroke-width="2"/>
<line x1="349" y1="2754" x2="425" y2="2754" stroke="#006400" stroke-width="4.5"/>
<text class="lg" x="455" y="2766">19 m a.l.b.</text>
<line x1="666" y1="2754" x2="742" y2="2754" stroke="#2E8B57" stroke-width="4.5"/>
<text class="lg" x="772" y="2766">16 m a.l.b.</text>
<line x1="1000" y1="2754" x2="1074" y2="2754" stroke="#9ACD32" stroke-width="4.5"/>
<text class="lg" x="1101" y="2766">6.5 m a.l.b.</text>
<line x1="1335" y1="2754" x2="1409" y2="2754" stroke="#3CB371" stroke-width="4.5"/>
<text class="lg" x="1436" y="2766">3 m a.l.b.</text>
<line x1="1637" y1="2754" x2="1711" y2="2754" stroke="#66CDAA" stroke-width="4.5"/>
<text class="lg" x="1739" y="2766">1 m alb</text>

<rect x="1600" y="3230" width="283" height="62" rx="6" fill="#E5E5E5" fill-opacity="0.85" stroke="#d0d0d0" stroke-width="2"/>
<line x1="1625" y1="3261" x2="1700" y2="3261" stroke="#006400" stroke-width="4.5"/>
<text class="lg" x="1715" y="3273" font-size="32">46 m a.l.b.</text>

<rect x="1448" y="3729" width="435" height="166" rx="6" fill="#E5E5E5" fill-opacity="0.85" stroke="#d0d0d0" stroke-width="2"/>
<circle cx="1495" cy="3758" r="10" fill="#800080"/>
<text class="lg" x="1560" y="3770">Rainfall</text>
<circle cx="1495" cy="3809" r="10" fill="#BA55D3"/>
<text class="lg" x="1560" y="3821">Carnivore Creek</text>
<circle cx="1495" cy="3862" r="10" fill="#DDA0DD"/>
<text class="lg" x="1560" y="3874">Chamberlin Creek</text>
</g>
</svg>
</body></html>
